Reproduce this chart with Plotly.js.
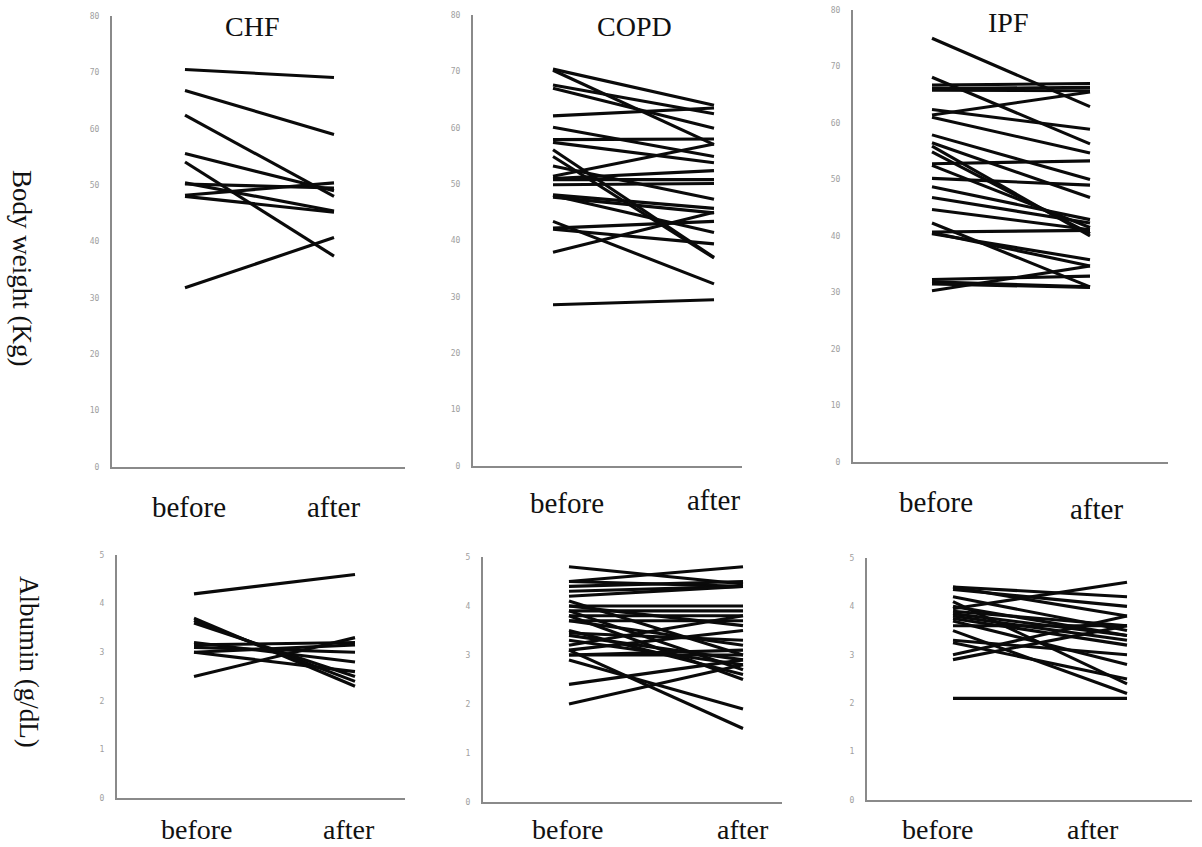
<!DOCTYPE html>
<html>
<head>
<meta charset="utf-8">
<script src="https://cdn.plot.ly/plotly-3.0.1.min.js"></script>
<style>html,body{margin:0;padding:0;background:#fff;}#chart{width:1202px;height:847px;}</style>
</head>
<body>
<div id="chart"></div>
<script>
// ---------- data ----------
const groups = ['CHF', 'COPD', 'IPF'];
const timepoints = ['before', 'after'];
const measureTitles = ['Body weight (Kg)', 'Albumin (g/dL)'];
const weightTicks = [0, 10, 20, 30, 40, 50, 60, 70, 80];
const albuminTicks = [0, 1, 2, 3, 4, 5];

const chfWeightBefore = [70.5, 66.8, 62.4, 55.6, 54.1, 50.4, 50.2, 48.2, 48.0, 31.8];
const chfWeightAfter  = [69.1, 59.0, 48.0, 49.0, 37.4, 45.4, 49.5, 50.4, 45.2, 40.7];

const copdWeightBefore = [70.4, 70.2, 67.6, 67.0, 62.1, 60.1, 57.9, 57.4, 56.1, 54.9, 53.2, 51.4, 51.0, 50.8, 49.9, 48.1, 47.7, 48.0, 43.4, 42.2, 42.0, 37.9, 28.6];
const copdWeightAfter  = [64.0, 57.0, 62.5, 59.9, 63.5, 54.9, 58.0, 53.8, 37.0, 36.9, 47.3, 57.1, 52.4, 50.8, 50.1, 45.7, 44.9, 41.4, 32.3, 43.4, 39.4, 45.0, 29.5];

const ipfWeightBefore = [75.0, 68.1, 66.7, 66.1, 65.8, 61.4, 62.4, 61.0, 57.9, 56.5, 55.9, 54.9, 52.8, 52.5, 50.2, 48.7, 46.8, 44.7, 42.3, 40.7, 40.4, 40.6, 32.3, 31.9, 31.5, 30.3];
const ipfWeightAfter  = [62.9, 56.3, 67.0, 66.3, 65.7, 65.5, 58.9, 54.7, 50.0, 46.8, 40.0, 40.4, 53.3, 41.5, 49.0, 42.9, 42.3, 41.1, 31.0, 41.0, 35.8, 34.7, 32.9, 31.0, 30.9, 34.7];

const chfAlbBefore = [4.2, 3.7, 3.65, 3.6, 3.2, 3.15, 3.1, 3.0, 3.0, 2.5];
const chfAlbAfter  = [4.6, 2.3, 2.4, 2.5, 2.8, 3.2, 3.0, 3.15, 2.6, 3.3];

const copdAlbBefore = [4.8, 4.5, 4.5, 4.4, 4.3, 4.2, 4.1, 4.0, 4.0, 3.9, 3.9, 3.8, 3.8, 3.7, 3.7, 3.5, 3.45, 3.4, 3.3, 3.2, 3.1, 3.1, 3.0, 3.0, 2.9, 2.4, 2.0];
const copdAlbAfter  = [4.45, 4.8, 4.4, 4.5, 4.4, 4.4, 3.0, 4.0, 3.6, 3.9, 2.7, 3.8, 2.5, 3.7, 3.2, 2.6, 3.3, 2.9, 2.8, 3.8, 3.5, 1.5, 3.0, 3.1, 1.9, 2.9, 2.8];

const ipfAlbBefore = [4.4, 4.4, 4.35, 3.95, 4.2, 4.1, 4.0, 3.9, 3.85, 3.8, 3.75, 3.7, 3.6, 3.5, 3.3, 3.25, 3.0, 2.9, 2.1];
const ipfAlbAfter  = [4.2, 3.8, 4.0, 4.5, 3.5, 2.4, 3.4, 3.6, 3.4, 3.3, 3.2, 2.8, 3.6, 2.2, 3.0, 2.5, 3.8, 3.6, 2.1];

// ---------- layout geometry (pixels in a 1202x847 page) ----------
const W = 1202, H = 847;
const panels = [
  {before: chfWeightBefore,  after: chfWeightAfter,  ticks: weightTicks,  title: groups[0], yAx: 112, xEnd: 405,  y0: 467, yTop: 16,  bx: 189, ax: 334, tx: 252,  ty: 26},
  {before: copdWeightBefore, after: copdWeightAfter, ticks: weightTicks,  title: groups[1], yAx: 473, xEnd: 742,  y0: 466, yTop: 15,  bx: 567, ax: 713, tx: 634,  ty: 26},
  {before: ipfWeightBefore,  after: ipfWeightAfter,  ticks: weightTicks,  title: groups[2], yAx: 853, xEnd: 1168, y0: 462, yTop: 10,  bx: 936, ax: 1096, tx: 1008, ty: 22},
  {before: chfAlbBefore,     after: chfAlbAfter,     ticks: albuminTicks, title: null,      yAx: 117, xEnd: 405,  y0: 798, yTop: 555, bx: 197, ax: 349},
  {before: copdAlbBefore,    after: copdAlbAfter,    ticks: albuminTicks, title: null,      yAx: 483, xEnd: 782,  y0: 802, yTop: 557, bx: 568, ax: 743},
  {before: ipfAlbBefore,     after: ipfAlbAfter,     ticks: albuminTicks, title: null,      yAx: 867, xEnd: 1192, y0: 800, yTop: 558, bx: 938, ax: 1093}
];
// pixel x of the data endpoints (before/after) in each panel
const lineX = [[185, 334], [553, 714], [932, 1090], [194, 355], [569, 743], [953, 1127]];
// vertical pixel centre of category labels
const labelYs = [[507, 507], [503, 500], [502, 509], [829, 829], [829, 829], [829, 829]];

const serif = 'Liberation Serif, Times New Roman, serif';
const traces = [];
const layout = {
  width: W, height: H,
  margin: {l: 0, r: 0, t: 0, b: 0},
  paper_bgcolor: '#fff', plot_bgcolor: '#fff',
  showlegend: false,
  annotations: []
};

panels.forEach((p, i) => {
  const k = i + 1;
  const xa = k === 1 ? 'x' : 'x' + k;
  const ya = k === 1 ? 'y' : 'y' + k;
  const [pxB, pxA] = lineX[i];
  const s = pxA - pxB;
  const ymax = p.ticks[p.ticks.length - 1];

  p.before.forEach((b, j) => {
    traces.push({
      x: timepoints, y: [b, p.after[j]],
      xaxis: xa, yaxis: ya,
      type: 'scatter', mode: 'lines',
      line: {color: '#0a0a0a', width: 3.1},
      hoverinfo: 'skip', showlegend: false
    });
  });

  layout['xaxis' + (k === 1 ? '' : k)] = {
    domain: [p.yAx / W, p.xEnd / W],
    range: [(p.yAx - pxB) / s, (p.xEnd - pxB) / s],
    type: 'category',
    anchor: ya,
    showgrid: false, zeroline: false,
    showline: true, linecolor: '#8a8a8a', linewidth: 2,
    showticklabels: false, ticks: '',
    fixedrange: true
  };
  layout['yaxis' + (k === 1 ? '' : k)] = {
    domain: [1 - p.y0 / H, 1 - p.yTop / H],
    range: [0, ymax],
    anchor: xa,
    tickvals: p.ticks,
    ticktext: p.ticks.map(String),
    showgrid: false, zeroline: false,
    showline: true, linecolor: '#8a8a8a', linewidth: 2,
    ticks: '', ticklabelstandoff: 9,
    tickfont: {family: 'DejaVu Sans Mono, monospace', size: 8, color: '#a0a0a0'},
    fixedrange: true
  };

  // category labels under each panel
  [p.bx, p.ax].forEach((lx, t) => {
    layout.annotations.push({
      text: timepoints[t], xref: 'paper', yref: 'paper',
      x: lx / W, y: 1 - labelYs[i][t] / H,
      xanchor: 'center', yanchor: 'middle', showarrow: false,
      font: {family: serif, size: i < 3 ? 29 : 28, color: '#111'}
    });
  });

  if (p.title) {
    layout.annotations.push({
      text: p.title, xref: 'paper', yref: 'paper',
      x: p.tx / W, y: 1 - p.ty / H,
      xanchor: 'center', yanchor: 'middle', showarrow: false,
      font: {family: serif, size: 28, color: '#111'}
    });
  }
});

// row titles (rotated)
[[22, 268], [29, 662]].forEach((pos, r) => {
  layout.annotations.push({
    text: measureTitles[r], xref: 'paper', yref: 'paper',
    x: pos[0] / W, y: 1 - pos[1] / H,
    xanchor: 'center', yanchor: 'middle', showarrow: false,
    textangle: 90,
    font: {family: serif, size: 27, color: '#111'}
  });
});

Plotly.newPlot('chart', traces, layout, {staticPlot: true, displayModeBar: false});
</script>
</body>
</html>
